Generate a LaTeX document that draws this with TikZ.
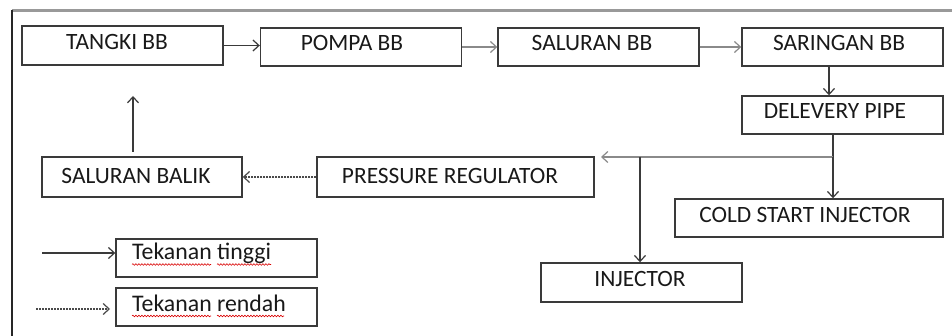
\documentclass[tikz,border=0pt]{standalone}
\usepackage{fontspec}
\setmainfont{Carlito}
\usetikzlibrary{arrows.meta,decorations.pathmorphing}
\definecolor{edge}{HTML}{3A3A3A}
\definecolor{pipe}{HTML}{8A8A8A}
\definecolor{dots}{HTML}{4A4A4A}
\begin{document}
\begin{tikzpicture}[x=1pt,y=-1pt,
  box/.style={draw=edge,line width=1.4pt,rectangle,inner sep=0pt},
  lbl/.style={font=\fontsize{23.4}{25}\selectfont,text=black!90,inner sep=0pt},
  leg/.style={font=\fontsize{23.8}{26}\selectfont,text=black!90,inner sep=0pt,anchor=base west},
  tip/.style={-{Straight Barb[length=6pt,width=11pt,line width=1.2pt]}},
  flow/.style={tip,draw=edge,line width=1.2pt},
  grayflow/.style={tip,draw=pipe,line width=2pt},
  lowflow/.style={tip,draw=dots,line width=1.6pt,dash pattern=on 2pt off 1pt},
  spell/.style={draw=red!85!black,line width=0.6pt,decorate,
    decoration={snake,amplitude=0.8pt,segment length=3pt}}]
\useasboundingbox (0,0) rectangle (952,336);

% frame
\draw[draw=black!40,line width=3pt] (12,11) -- (952,11);
\draw[draw=black!85,line width=1.5pt] (12,10) -- (12,336);

% boxes
\node[box,minimum width=201pt,minimum height=39pt] (tangki)    at (122.5,45.5) {};
\node[box,minimum width=201pt,minimum height=38pt] (pompa)     at (361,47) {};
\node[box,minimum width=201pt,minimum height=38pt] (saluran)   at (598.5,47) {};
\node[box,minimum width=201pt,minimum height=38pt] (saringan)  at (842.5,47) {};
\node[box,minimum width=201pt,minimum height=38pt] (delevery)  at (842.5,115) {};
\node[box,minimum width=277pt,minimum height=40pt] (regulator) at (455.5,177) {};
\node[box,minimum width=200pt,minimum height=40pt] (balik)     at (142,177) {};
\node[box,minimum width=268pt,minimum height=38pt] (cold)      at (809,218) {};
\node[box,minimum width=201pt,minimum height=39pt] (injector)  at (641.5,282.5) {};
\node[box,minimum width=201pt,minimum height=38pt] (tinggi)    at (216.5,258) {};
\node[box,minimum width=201pt,minimum height=38pt] (rendah)    at (216.5,307) {};

% labels
\node[lbl] (tTangki)    at (117,42)  {TANGKI BB};
\node[lbl] (tPompa)     at (352,43)  {POMPA BB};
\node[lbl] (tSaluran)   at (592,43)  {SALURAN BB};
\node[lbl] (tSaringan)  at (839,43)  {SARINGAN BB};
\node[lbl] (tDelevery)  at (835,111) {DELEVERY PIPE};
\node[lbl] (tBalik)     at (136,176) {SALURAN BALIK};
\node[lbl] (tRegulator) at (450,176) {PRESSURE REGULATOR};
\node[lbl] (tCold)      at (805,215) {COLD START INJECTOR};
\node[lbl] (tInjector)  at (640,279) {INJECTOR};
\node[leg] (tTinggi)    at (132,260) {Tekanan tinggi};
\node[leg] (tRendah)    at (132,312) {Tekanan rendah};

% spelling marks
\draw[spell] (132,264.5) -- (211,264.5);
\draw[spell] (217,264.5) -- (271,264.5);
\draw[spell] (132,316) -- (211,316);
\draw[spell] (217,316) -- (284,316);

% supply line
\draw[flow] (tangki.east) -- (tangki.east -| pompa.west);
\draw[grayflow] (pompa.east) -- (saluran.west);
\draw[grayflow] (saluran.east) -- (saringan.west);
\draw[flow] ([xshift=-13.5pt]saringan.south) -- ([xshift=-13.5pt]delevery.north);

% distribution
\coordinate (j)    at (833,157);
\coordinate (j2)   at (640,157);
\coordinate (rtip) at (601,157);
\draw[draw=edge,line width=1.3pt] (delevery.south -| j) -- (j);
\draw[tip,draw=pipe,line width=1.8pt] (j) -- (rtip);
\draw[flow] (j) -- (cold.north -| j);
\draw[flow] (j2) -- (injector.north -| j2);

% return line
\draw[lowflow] (regulator.west) -- (balik.east);
\coordinate (r1) at (133,152);
\coordinate (r2) at (133,96);
\draw[flow,line width=1.1pt] (r1) -- (r2);

% legend
\coordinate (l1) at (42,253);
\coordinate (l2) at (36,309);
\coordinate (l3) at (110,309);
\draw[flow] (l1) -- (l1 -| tinggi.west);
\draw[lowflow] (l2) -- (l3);
\end{tikzpicture}
\end{document}
